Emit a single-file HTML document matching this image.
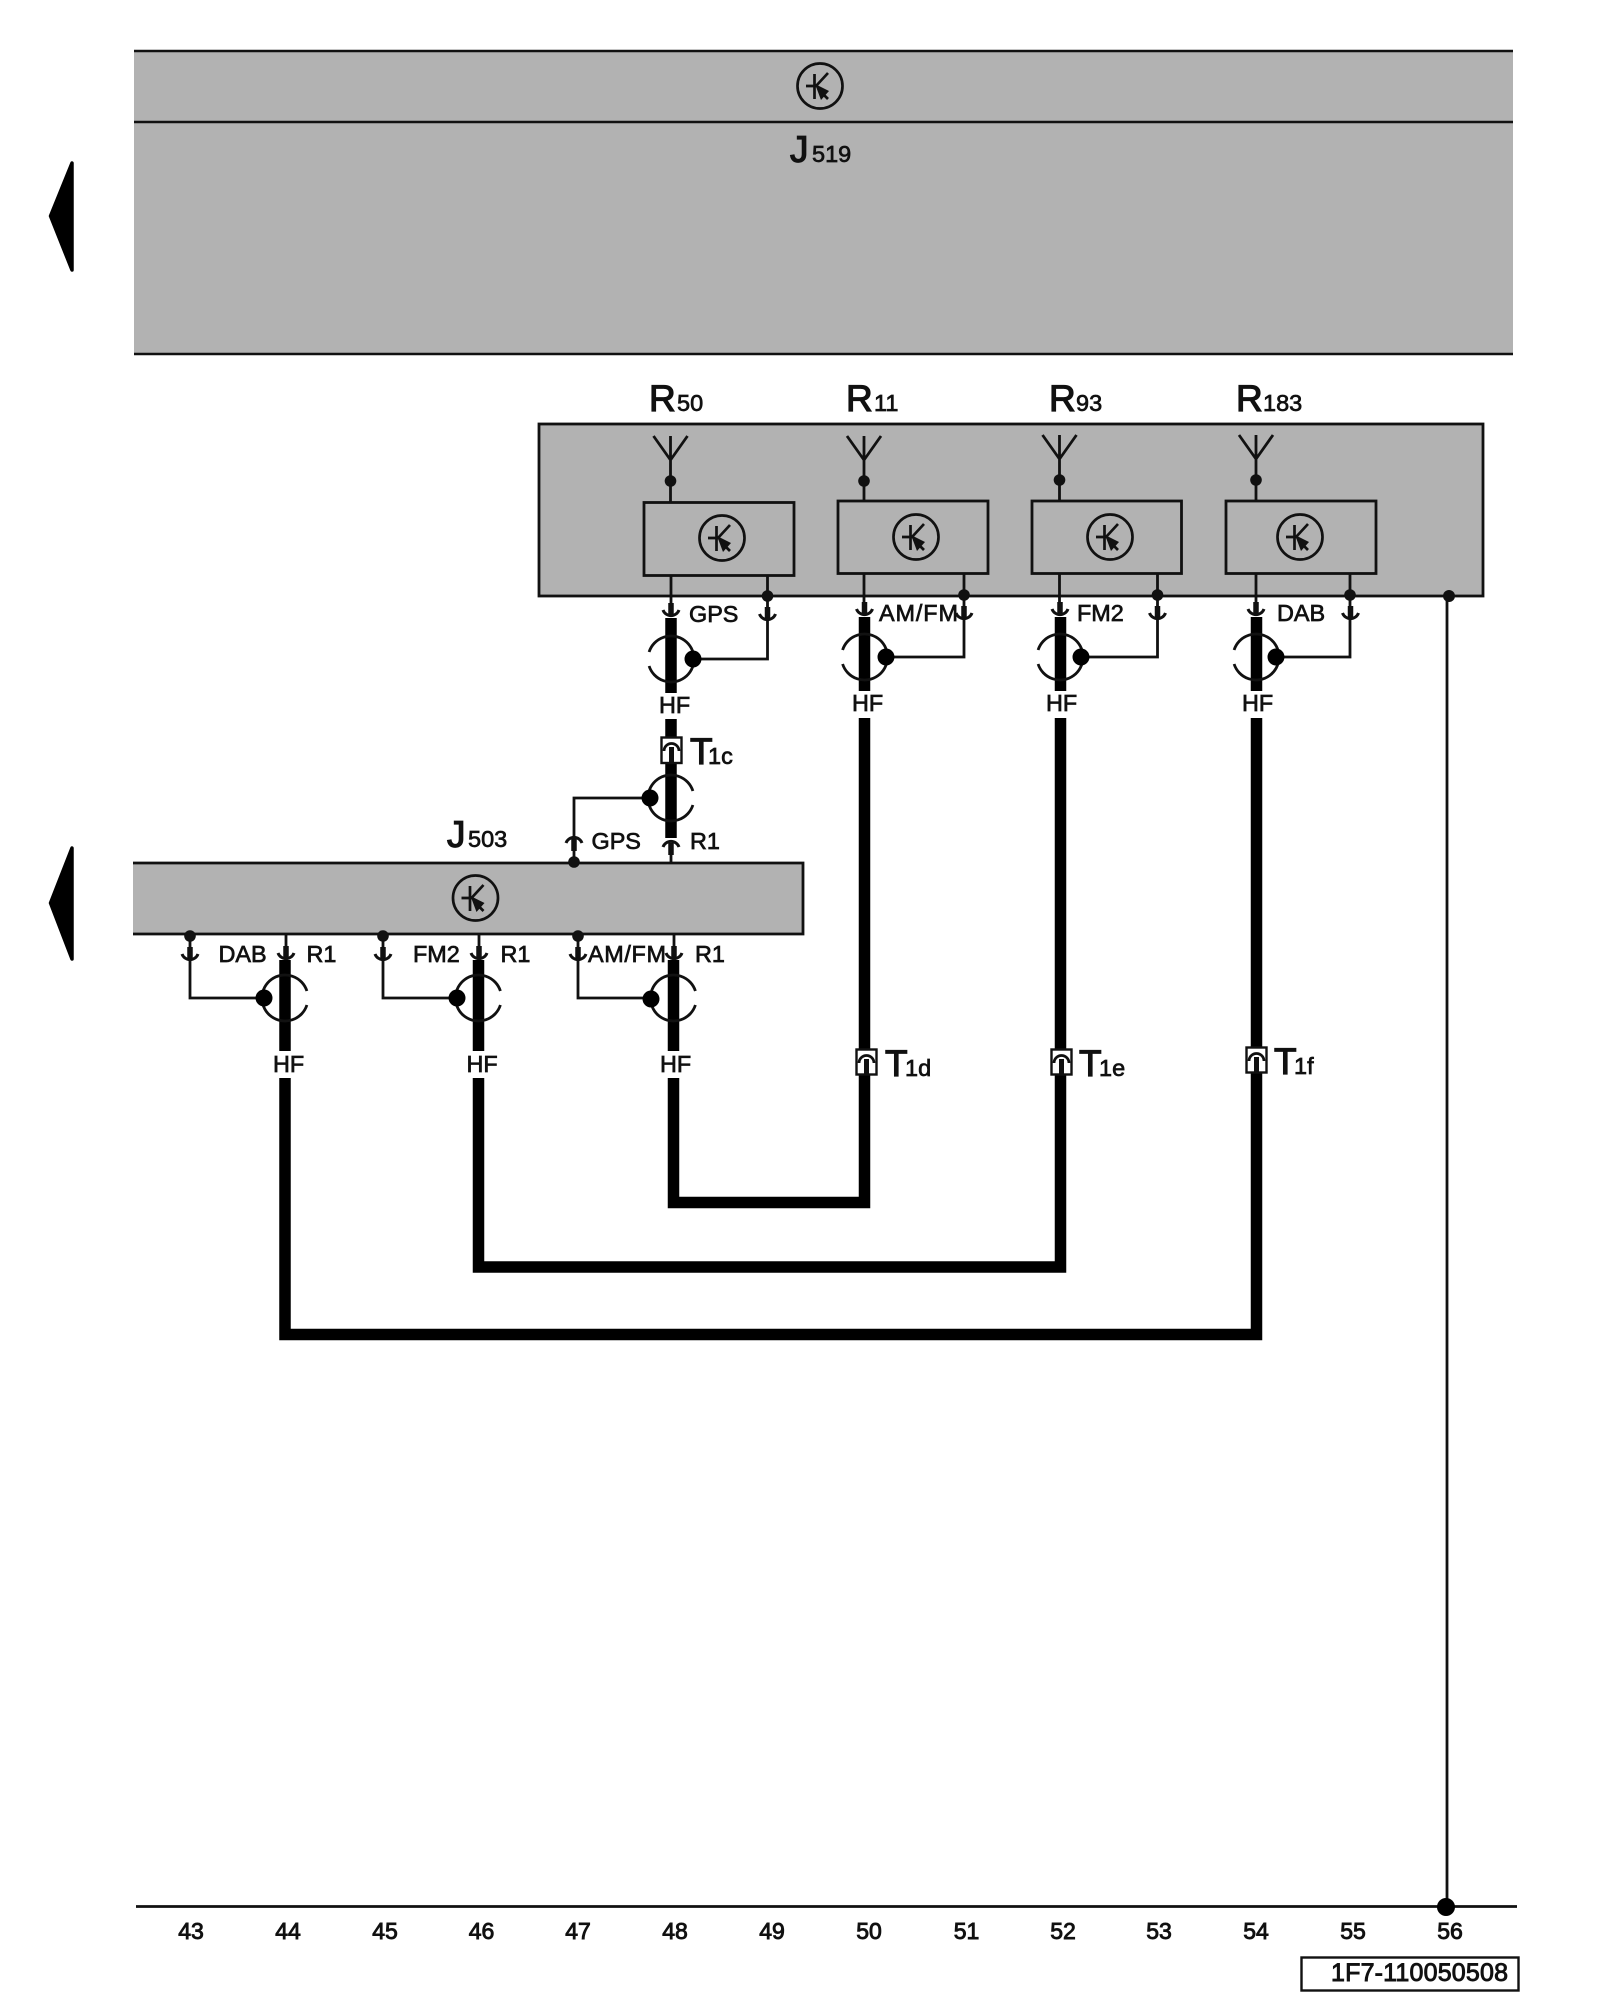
<!DOCTYPE html>
<html><head><meta charset="utf-8"><style>
html,body{margin:0;padding:0;background:#fff}
svg{display:block}
text{font-family:"Liberation Sans",sans-serif;fill:#111;stroke:#111;stroke-width:.7}
.l{font-size:23.400px}
.b{font-size:37px;stroke-width:1.2}
.s{font-size:23.500px;stroke-width:.7}
.n{font-size:23px;stroke-width:.9}
</style></head><body>
<svg width="1600" height="2000" viewBox="0 0 1600 2000" xmlns="http://www.w3.org/2000/svg">
<defs>
<g id="t" fill="none" stroke="#111" stroke-width="2.700">
<circle r="22.500"/>
<path d="M-14 0H-2M-5.500-12V13M-4 0L8-13M0 5L8 13"/>
<path d="M-5-2L9 5L1 14Z" fill="#111" stroke="none"/>
</g>
<g id="sr" fill="none" stroke="#111" stroke-width="2.800"><path d="M-21.900-7A23 23 0 1 1-21.900 7"/></g>
<g id="sl" fill="none" stroke="#111" stroke-width="2.800"><path d="M21.900-7A23 23 0 1 0 21.900 7"/></g>
<g id="cd" fill="none" stroke="#111"><path d="M-8-8A8.500 8.500 0 0 0 8-8" stroke-width="3"/><path d="M0-15V-3" stroke-width="5.500"/></g>
<g id="cu" fill="none" stroke="#111"><path d="M-8 8A8.500 8.500 0 0 1 8 8" stroke-width="3"/><path d="M0 4V16" stroke-width="5.500"/></g>
<g id="a"><path d="M-17 0L0 24L17 0M0 0V48" fill="none" stroke="#111" stroke-width="2.800"/><circle cy="45" r="5.800" fill="#111"/></g>
</defs>

<!-- J519 -->
<rect x="134" y="51" width="1379" height="303" fill="#b2b2b2"/>
<path d="M134 51H1513M134 122H1513M134 354H1513" stroke="#111" stroke-width="2.600" fill="none"/>
<use href="#t" x="820" y="86"/>
<text x="790" y="162" class="b">J</text><text x="812" y="162" class="s">519</text>

<!-- arrows -->
<path d="M50.500 216L72 163V270Z" fill="#000" stroke="#000" stroke-width="3.500" stroke-linejoin="round"/>
<path d="M50.500 903L72 848V959Z" fill="#000" stroke="#000" stroke-width="3.500" stroke-linejoin="round"/>

<!-- R box -->
<rect x="539" y="424" width="944" height="172" fill="#b2b2b2" stroke="#111" stroke-width="2.800"/>
<text x="649" y="411" class="b">R</text><text x="677" y="411" class="s">50</text>
<text x="846" y="411" class="b">R</text><text x="874" y="411" class="s">11</text>
<text x="1049" y="411" class="b">R</text><text x="1076" y="411" class="s">93</text>
<text x="1236" y="411" class="b">R</text><text x="1263" y="411" class="s">183</text>

<use href="#a" x="670.500" y="436"/><use href="#a" x="864" y="436"/><use href="#a" x="1059.500" y="435"/><use href="#a" x="1256" y="435"/>
<path d="M670.500 484V503M864 484V502M1059.500 484V502M1256 484V502" stroke="#111" stroke-width="2.800"/>
<g fill="#b2b2b2" stroke="#111" stroke-width="2.800">
<rect x="644" y="502.500" width="150" height="73"/>
<rect x="838" y="501" width="150" height="72.500"/>
<rect x="1032" y="501" width="149.500" height="72.500"/>
<rect x="1226" y="501" width="150" height="72.500"/>
</g>
<use href="#t" x="722" y="538"/><use href="#t" x="916" y="537"/><use href="#t" x="1110" y="537"/><use href="#t" x="1300" y="537"/>

<!-- thin lines under R modules -->
<g stroke="#111" stroke-width="2.800" fill="none">
<path d="M671 576V605M864 574V604M1059.500 574V604M1256 574V604"/>
<path d="M767.500 576V622M767.500 622V659H693"/>
<path d="M964 574V620M964 620V657H886"/>
<path d="M1157.500 574V620M1157.500 620V657H1081"/>
<path d="M1350 574V620M1350 620V657H1276"/>
<path d="M1447 596V1906"/>
</g>
<g fill="#111">
<circle cx="767.500" cy="596" r="5.800"/><circle cx="964" cy="595" r="5.800"/><circle cx="1157.500" cy="595" r="5.800"/><circle cx="1350" cy="595" r="5.800"/><circle cx="1449" cy="596" r="6"/>
</g>
<use href="#cd" x="671" y="618"/><use href="#cd" x="864.500" y="617"/><use href="#cd" x="1060" y="617"/><use href="#cd" x="1256" y="617"/>
<use href="#cd" x="767.500" y="622"/><use href="#cd" x="964" y="621"/><use href="#cd" x="1157.500" y="621"/><use href="#cd" x="1350.500" y="621"/>

<!-- thick wires -->
<g stroke="#000" stroke-width="11.500" fill="none" stroke-linejoin="miter">
<path d="M671 618V693M671 719V838"/>
<path d="M864.500 617V691M864.500 718V1202.500H673.500V1078M673.500 1051V960"/>
<path d="M1060.500 617V691M1060.500 718V1267H478.500V1078M478.500 1051V960"/>
<path d="M1256.500 617V691M1256.500 718V1334.500H285V1078M285 1051V960"/>
</g>

<!-- top shields -->
<use href="#sr" x="671" y="659"/><use href="#sr" x="864.500" y="657"/><use href="#sr" x="1060" y="657"/><use href="#sr" x="1256" y="657"/>
<g fill="#000"><circle cx="693" cy="659" r="8.500"/><circle cx="886" cy="657" r="8.500"/><circle cx="1081" cy="657" r="8.500"/><circle cx="1276" cy="657" r="8.500"/></g>

<text x="689" y="622" class="l">GPS</text>
<text x="879" y="621" class="l" textLength="79">AM/FM</text>
<text x="1077" y="621" class="l">FM2</text>
<text x="1277" y="621" class="l">DAB</text>
<text x="659" y="713" class="l">HF</text><text x="852" y="711" class="l">HF</text><text x="1046" y="711" class="l">HF</text><text x="1242" y="711" class="l">HF</text>

<!-- T connectors -->
<g fill="#fff" stroke="#111" stroke-width="2.400">
<rect x="661.500" y="737.500" width="20" height="25.500"/>
<rect x="856.500" y="1049.500" width="20" height="25"/>
<rect x="1051.500" y="1049.500" width="20" height="25"/>
<rect x="1246.500" y="1047.500" width="20" height="25"/>
</g>
<g fill="none" stroke="#111">
<path d="M664 751A7.500 7.500 0 0 1 679 751" stroke-width="2.800"/><path d="M671.500 747V763" stroke-width="5"/>
<path d="M859 1063A7.500 7.500 0 0 1 874 1063" stroke-width="2.800"/><path d="M866.500 1059V1075" stroke-width="5"/>
<path d="M1054 1063A7.500 7.500 0 0 1 1069 1063" stroke-width="2.800"/><path d="M1061.500 1059V1075" stroke-width="5"/>
<path d="M1249 1061A7.500 7.500 0 0 1 1264 1061" stroke-width="2.800"/><path d="M1256.500 1057V1073" stroke-width="5"/>
</g>
<text x="690" y="764" class="b">T</text><text x="708" y="764" class="s">1c</text>
<text x="885" y="1076" class="b">T</text><text x="905" y="1076" class="s">1d</text>
<text x="1079" y="1076" class="b">T</text><text x="1099" y="1076" class="s">1e</text>
<text x="1274" y="1074" class="b">T</text><text x="1294" y="1074" class="s">1f</text>

<!-- J503 upper connection -->
<use href="#sl" x="671" y="798"/>
<path d="M650 798H574V862" fill="none" stroke="#111" stroke-width="2.800"/>
<circle cx="650" cy="798" r="8.500" fill="#000"/>
<use href="#cu" x="574" y="835"/><use href="#cu" x="671" y="839"/>
<path d="M671 850V863" stroke="#111" stroke-width="2.800"/>
<text x="591.500" y="849" class="l">GPS</text><text x="690" y="849" class="l">R1</text>

<!-- J503 -->
<rect x="133" y="863" width="670" height="71" fill="#b2b2b2"/>
<path d="M133 863H803V934H133" fill="none" stroke="#111" stroke-width="2.800"/>
<circle cx="574" cy="862" r="5.800" fill="#111"/>
<use href="#t" x="475.500" y="898"/>
<text x="447" y="847" class="b">J</text><text x="468" y="847" class="s">503</text>

<!-- J503 lower -->
<g stroke="#111" stroke-width="2.800" fill="none">
<path d="M190 936V998H264M383 936V998H457M578 936V998H651"/>
<path d="M286 934V955M479 934V955M674 934V955"/>
</g>
<g fill="#111"><circle cx="190" cy="936" r="5.800"/><circle cx="383" cy="936" r="5.800"/><circle cx="578" cy="936" r="5.800"/></g>
<use href="#cd" x="190" y="962"/><use href="#cd" x="383" y="962"/><use href="#cd" x="578" y="962"/>
<use href="#cd" x="286" y="961"/><use href="#cd" x="479" y="961"/><use href="#cd" x="674" y="961"/>
<use href="#sl" x="285" y="998"/><use href="#sl" x="478.500" y="998"/><use href="#sl" x="673.500" y="998"/>
<g fill="#000"><circle cx="264" cy="998" r="8.500"/><circle cx="457" cy="998" r="8.500"/><circle cx="651" cy="999" r="8.500"/></g>
<text x="218.500" y="962" class="l">DAB</text><text x="306.500" y="962" class="l">R1</text>
<text x="413" y="962" class="l">FM2</text><text x="500.500" y="962" class="l">R1</text>
<text x="588" y="962" class="l" textLength="78">AM/FM</text><text x="695" y="962" class="l">R1</text>
<text x="273" y="1072" class="l">HF</text><text x="466.500" y="1072" class="l">HF</text><text x="660" y="1072" class="l">HF</text>

<!-- bus -->
<path d="M136 1906.500H1517" stroke="#111" stroke-width="2.800"/>
<circle cx="1446" cy="1907" r="9" fill="#000"/>
<g text-anchor="middle">
<text x="191" y="1939" class="n">43</text><text x="288" y="1939" class="n">44</text><text x="385" y="1939" class="n">45</text><text x="481.500" y="1939" class="n">46</text>
<text x="578" y="1939" class="n">47</text><text x="675" y="1939" class="n">48</text><text x="772" y="1939" class="n">49</text><text x="869" y="1939" class="n">50</text>
<text x="966.500" y="1939" class="n">51</text><text x="1063" y="1939" class="n">52</text><text x="1159" y="1939" class="n">53</text><text x="1256" y="1939" class="n">54</text>
<text x="1353" y="1939" class="n">55</text><text x="1450" y="1939" class="n">56</text>
</g>
<rect x="1301.500" y="1957.500" width="217" height="33" fill="#fff" stroke="#111" stroke-width="2.400"/>
<text x="1331" y="1981" textLength="177" style="font-size:25px;stroke-width:.9">1F7-110050508</text>
</svg>
</body></html>
